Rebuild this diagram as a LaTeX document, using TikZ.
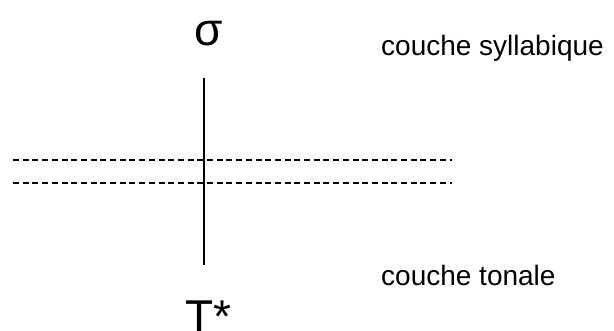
\documentclass[tikz,border=0pt]{standalone}
\usepackage{fontspec}
\setmainfont{Liberation Sans}
\begin{document}
\begin{tikzpicture}[x=1pt,y=-1pt,
  label/.style={inner sep=0pt,anchor=base west,font=\fontsize{28}{30}\selectfont},
  symb/.style={inner sep=0pt,font=\fontsize{46}{50}\selectfont},
  tier/.style={line width=1.4pt,dash pattern=on 6pt off 3.7pt},
  assoc/.style={line width=1.3pt}]
\useasboundingbox (0,0) rectangle (614,330);
\node[symb,anchor=base] (sigma) at (209,45) {σ};
\node[symb,anchor=base west] (T) at (185,332) {T*};
\node[label] (syl) at (381,55) {couche syllabique};
\node[label] (ton) at (381,285) {couche tonale};
\coordinate (l1a) at (13,160);
\coordinate (l1b) at (452,160);
\coordinate (l2a) at (13,183);
\coordinate (l2b) at (452,183);
\coordinate (vtop) at (204,78);
\coordinate (vbot) at (204,265);
\draw[tier] (l1a) -- (l1b);
\draw[tier] (l2a) -- (l2b);
\draw[assoc] (vtop) -- (vbot);
\end{tikzpicture}
\end{document}
